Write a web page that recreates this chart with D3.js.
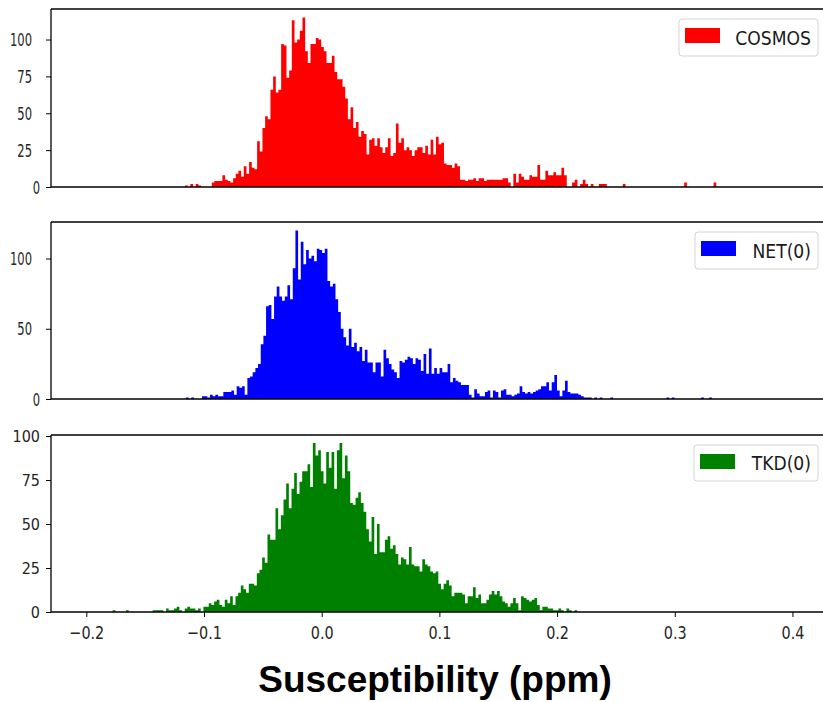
<!DOCTYPE html>
<html>
<head>
<meta charset="utf-8">
<script src="https://cdn.jsdelivr.net/npm/d3@7"></script>
<style>
  body { margin: 0; background: #fff; }
  svg { display: block; }
</style>
</head>
<body>
<svg id="chart" width="823" height="702"></svg>
<script>
// Histogram counts per bin (susceptibility in ppm)
const cosmosCounts = [
  1,0,2,0,2,1,0,0,0,0, 3,4,4,4,8,5,4,3,6,9,
  11,7,14,9,17,13,12,31,24,40, 48,46,66,75,64,66,97,96,74,79,
  113,98,100,106,115,92,84,97,97,101, 100,95,92,84,84,89,78,73,73,68,
  60,46,54,40,44,34,38,36,22,32, 33,28,33,27,23,27,33,21,23,43,
  30,33,25,27,25,21,25,27,27,23, 28,22,32,22,34,29,30,16,15,15,
  13,16,14,5,5,4,5,5,6,4, 6,6,4,5,5,5,5,5,5,6,
  6,3,0,9,3,9,7,5,5,8, 7,7,15,5,5,11,8,8,10,8,
  8,13,8,0,0,3,5,0,2,5, 2,0,2,0,0,2,2,2,0,0,
  0,0,0,0,2,0,0,0,0,0, 0,0,0,0,0,0,0,0,0,0,
  0,0,0,0,0,0,0,3,0,0, 0,0,0,0,0,0,0,0,3
];
const netCounts = [
  1,0,1,0,0,0,2,2,1,3, 2,3,2,2,5,5,5,6,3,9,
  8,9,3,15,16,19,22,25,39,45, 66,67,57,73,80,73,70,73,81,71,
  93,120,85,112,96,106,100,102,98,107, 106,104,107,84,80,82,71,62,50,44,
  38,50,37,40,34,37,27,35,26,26, 19,26,26,16,35,29,25,21,19,15,
  27,26,28,30,29,25,29,28,20,32, 18,36,18,22,18,22,19,19,25,12,
  15,13,12,10,10,10,3,1,7,4, 2,2,5,6,1,6,5,1,6,7,
  3,3,2,3,4,9,5,4,5,4, 5,6,7,9,9,12,6,12,17,6,
  2,6,13,5,4,4,4,3,2,1, 1,1,0,1,0,1,0,0,0,1,
  0,0,0,0,0,0,0,0,0,0, 0,0,0,0,0,0,0,0,0,0,
  1,0,1,0,0,0,0,0,0,0, 0,0,0,1,0,0,1
];
const tkdCounts = [
  1,0,0,0,0,1,0,0,0,0, 0,0,0,0,0,1,1,1,1,0,
  2,1,1,2,3,1,0,2,3,2, 2,1,2,0,3,3,5,4,6,7,
  4,3,7,5,9,4,9,11,15,13, 11,16,16,15,22,24,31,28,44,41,
  41,59,47,55,64,73,59,70,79,67, 74,80,80,84,71,96,89,92,80,73,
  91,82,91,70,92,96,76,89,80,62, 61,65,68,62,57,47,40,54,33,50,
  34,34,41,43,36,38,33,27,31,30, 27,37,27,26,26,23,30,27,26,23,
  22,23,16,13,16,18,15,9,11,11, 11,10,5,9,9,14,8,10,5,5,
  7,10,12,10,12,9,6,5,3,5, 8,5,1,9,8,7,6,7,8,4,
  1,3,3,2,2,1,1,2,1,0, 2,1,0,1
];
// first bin edge of each series and common bin width (ppm)
const binStarts = [-0.1161, -0.1153, -0.1776];
const binWidth = 0.002268;
const seriesNames = ["COSMOS", "NET(0)", "TKD(0)"];
const seriesColors = ["#ff0000", "#0000ff", "#008000"];
const yTickSets = [[0, 25, 50, 75, 100], [0, 50, 100], [0, 25, 50, 75, 100]];
const yTops = [120.7, 126, 100.6];
const xTicks = [-0.2, -0.1, 0.0, 0.1, 0.2, 0.3, 0.4];
const xLabel = "Susceptibility (ppm)";

const allCounts = [cosmosCounts, netCounts, tkdCounts];

// layout
const left = 51, right = 822;
const panelBox = [[9, 187], [222, 399], [435, 612]];
const legendBox = [
  {x: 679, y: 19, w: 139, h: 37},
  {x: 695, y: 232, w: 123, h: 37},
  {x: 694, y: 445, w: 124, h: 36}
];
const tickFont = "'DejaVu Sans', sans-serif";
const textColor = "#262626";

const svg = d3.select("#chart");
svg.append("rect").attr("width", 823).attr("height", 702).attr("fill", "#fff");

const x = d3.scaleLinear().domain([-0.2300, 0.4251]).range([left, right]);

allCounts.forEach((counts, k) => {
  const [top, bottom] = panelBox[k];
  const y = d3.scaleLinear().domain([0, yTops[k]]).range([bottom, top]);
  const g = svg.append("g");

  // bars as one stepped area so neighbouring bins have no seams
  const pts = counts.map((c, i) => ({v: binStarts[k] + i * binWidth, c: c}));
  pts.push({v: binStarts[k] + counts.length * binWidth, c: counts[counts.length - 1]});
  const area = d3.area()
    .x(d => x(d.v))
    .y0(y(0))
    .y1(d => y(d.c))
    .curve(d3.curveStepAfter);
  g.append("path").datum(pts).attr("d", area).attr("fill", seriesColors[k]);

  // y axis
  const yAxis = g.append("g")
    .attr("transform", `translate(${left},0)`)
    .call(d3.axisLeft(y).tickValues(yTickSets[k]).tickSize(5).tickFormat(d3.format("d")));
  yAxis.select(".domain").remove();
  yAxis.selectAll(".tick line").attr("stroke", "#000").attr("stroke-width", 1);
  yAxis.selectAll(".tick text").each(function(d) {
    const narrow = k < 2;
    const edge = (narrow && d !== 0) ? -19 : -11;
    d3.select(this)
      .attr("x", 0).attr("dy", "0.36em")
      .attr("transform", `translate(${edge},0) scale(${narrow ? 0.68 : 0.9},1)`)
      .attr("font-family", tickFont)
      .attr("font-size", narrow ? 17 : 16)
      .attr("fill", textColor)
      .attr("text-anchor", "end");
  });

  // spines
  const sp = g.append("g").attr("stroke", "#000").attr("stroke-width", 1.3);
  sp.append("line").attr("x1", left).attr("x2", 823).attr("y1", top).attr("y2", top);
  sp.append("line").attr("x1", left).attr("x2", 823).attr("y1", bottom).attr("y2", bottom);
  sp.append("line").attr("x1", left).attr("x2", left).attr("y1", top).attr("y2", bottom);

  // legend
  const lb = legendBox[k];
  const lg = g.append("g").attr("transform", `translate(${lb.x},${lb.y})`);
  lg.append("rect").attr("width", lb.w).attr("height", lb.h).attr("rx", 3)
    .attr("fill", "#fff").attr("stroke", "#d4d4d4").attr("stroke-width", 1);
  lg.append("rect").attr("x", 6).attr("y", 9).attr("width", 35).attr("height", 15)
    .attr("fill", seriesColors[k]);
  lg.append("text")
    .attr("transform", `translate(${lb.w - 7},${lb.h / 2 + 7}) scale(0.86,1)`)
    .attr("text-anchor", "end")
    .attr("font-family", tickFont).attr("font-size", 20)
    .attr("fill", "#1a1a1a")
    .text(seriesNames[k]);

  // x axis only under the last panel
  if (k === 2) {
    const xAxis = g.append("g")
      .attr("transform", `translate(0,${bottom})`)
      .call(d3.axisBottom(x).tickValues(xTicks).tickSize(5).tickFormat(d3.format(".1f")));
    xAxis.select(".domain").remove();
    xAxis.selectAll(".tick line").attr("stroke", "#000").attr("stroke-width", 1);
    xAxis.selectAll(".tick text")
      .attr("y", 0).attr("dy", 0)
      .attr("transform", "translate(0,27) scale(0.8,1)")
      .attr("font-family", tickFont).attr("font-size", 18)
      .attr("fill", textColor).attr("text-anchor", "middle");
  }
});

svg.append("text")
  .attr("x", 435).attr("y", 692)
  .attr("text-anchor", "middle")
  .attr("font-family", "'Liberation Sans', Arial, sans-serif")
  .attr("font-weight", "bold").attr("font-size", 37)
  .attr("fill", "#000")
  .text(xLabel);
</script>
</body>
</html>
